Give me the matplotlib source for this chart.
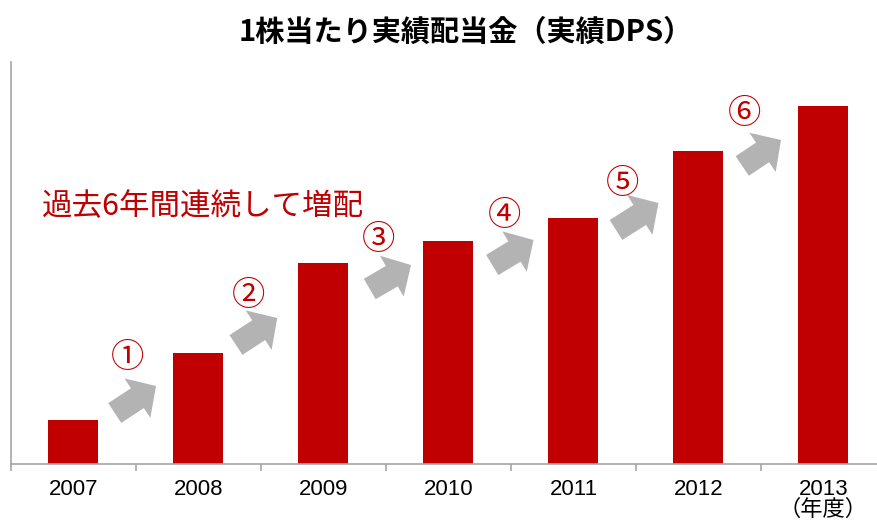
import matplotlib
matplotlib.use("Agg")
import matplotlib.pyplot as plt
from matplotlib.patches import FancyArrowPatch
import numpy as np

plt.rcParams["font.family"] = ["Liberation Sans", "Noto Sans CJK JP", "DejaVu Sans"]

# data (relative dividend levels)
years = ["2007", "2008", "2009", "2010", "2011", "2012", "2013\n（年度）"]
dps = [44, 111, 201, 223, 246, 313, 358]

# growth arrows between bars: tail/tip in data units
arrow_tail_x = [0.33, 1.30, 2.37, 3.35, 4.34, 5.35]
arrow_tip_x = [0.66, 1.63, 2.70, 3.68, 4.68, 5.66]
arrow_tail_y = [51, 119, 175, 199, 234, 298]
arrow_tip_y = [78, 146, 199, 224, 261, 324]
badges = ["①", "②", "③", "④", "⑤", "⑥"]
badge_x = [0.43, 1.40, 2.44, 3.45, 4.39, 5.37]
badge_y = [107, 169, 224, 248, 281, 351]

RED = "#C00000"
GRAY = "#B3B3B3"
AXIS = "#A6A6A6"

fig = plt.figure(figsize=(8.78, 5.21), dpi=100)
ax = fig.add_axes([11 / 878, 57 / 521, 875 / 878, 402 / 521])

x = np.arange(len(years))
ax.bar(x, dps, width=0.4, color=RED, zorder=2)

for i in range(len(badges)):
    arr = FancyArrowPatch(
        (arrow_tail_x[i], arrow_tail_y[i]), (arrow_tip_x[i], arrow_tip_y[i]),
        arrowstyle="simple,head_length=16,head_width=34,tail_width=17",
        mutation_scale=1, shrinkA=0, shrinkB=0, color=GRAY, lw=0, zorder=3,
    )
    ax.add_patch(arr)
    ax.text(badge_x[i], badge_y[i], badges[i], color=RED, fontsize=24,
            ha="center", va="center", family=["Noto Sans CJK JP"])

ax.text(-0.255, 257, "過去6年間連続して増配", color=RED, fontsize=22,
        ha="left", va="center", family=["Noto Sans CJK JP"])

ax.set_xlim(-0.5, len(years) - 0.5)
ax.set_ylim(0, 402)
ax.set_xticks(x)
ax.set_xticklabels(years, fontsize=16, va="top", linespacing=0.95)
ax.set_xticks(np.arange(len(years) + 1) - 0.5, minor=True)
ax.tick_params(axis="x", which="major", length=0, pad=11)
ax.tick_params(axis="x", which="minor", length=5, color=AXIS, width=1.2)
ax.set_yticks([])
for s in ["top", "right"]:
    ax.spines[s].set_visible(False)
for s in ["left", "bottom"]:
    ax.spines[s].set_color(AXIS)
    ax.spines[s].set_linewidth(1.2)

fig.text(466 / 878, 1 - 32 / 521, "1株当たり実績配当金（実績DPS）", fontsize=21,
         fontweight="bold", ha="center", va="center", family=["Noto Sans CJK JP"])

fig.savefig("out.png", dpi=100)
